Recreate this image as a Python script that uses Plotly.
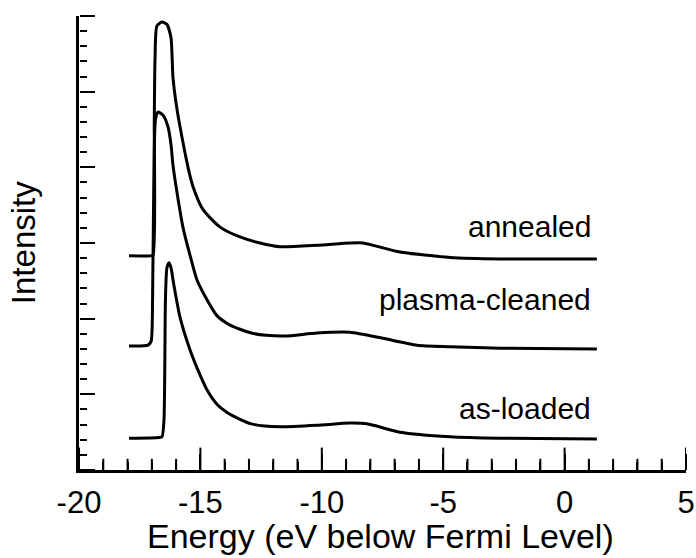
import plotly.graph_objects as go

# Energy (eV below Fermi level) and intensity (arbitrary, offset) for each spectrum
annealed_E = [-17.94, -17.05, -16.95, -16.90, -16.87, -16.79, -16.58, -16.38, -16.21, -16.13, -15.96,
              -15.76, -15.51, -15.30, -14.89, -14.19, -13.37, -12.55, -11.72, -10.20, -8.84,
              -8.30, -6.78, -4.72, -2.66, 1.33]
annealed_I = [2.83, 2.83, 2.84, 4.60, 5.42, 5.87, 5.92, 5.89, 5.71, 5.19, 4.76,
              4.40, 4.00, 3.74, 3.44, 3.21, 3.08, 3.00, 2.95, 2.97, 3.00,
              3.00, 2.88, 2.81, 2.79, 2.79]

plasma_E = [-17.94, -17.16, -17.03, -16.97, -16.91, -16.85, -16.75, -16.54, -16.33, -16.21,
            -16.13, -15.96, -15.72, -15.43, -15.14, -14.73, -14.32, -13.86, -13.37, -12.90,
            -12.30, -11.50, -10.20, -8.84, -7.48, -6.08, -4.72, -2.66, 1.33]
plasma_I = [1.64, 1.65, 1.70, 2.25, 4.10, 4.63, 4.73, 4.69, 4.53, 4.30,
            4.03, 3.66, 3.21, 2.84, 2.51, 2.25, 2.04, 1.93, 1.86, 1.81,
            1.78, 1.77, 1.81, 1.82, 1.74, 1.65, 1.63, 1.61, 1.60]

asloaded_E = [-17.94, -16.70, -16.58, -16.50, -16.44, -16.38, -16.29, -16.21, -16.09, -15.84, -15.43,
              -15.02, -14.73, -14.32, -13.90, -13.37, -12.90, -12.35, -11.72, -10.20, -8.84, -8.14,
              -6.78, -4.72, -2.66, 1.33]
asloaded_I = [0.42, 0.43, 0.44, 0.66, 2.25, 2.67, 2.74, 2.67, 2.44, 2.02, 1.59,
              1.26, 1.06, 0.87, 0.76, 0.67, 0.61, 0.58, 0.57, 0.59, 0.62, 0.61,
              0.50, 0.44, 0.42, 0.41]

labels = ["annealed", "plasma-cleaned", "as-loaded"]
label_x = [1.17, 1.17, 1.17]
label_y = [3.22, 2.25, 0.81]

x_tickvals = [-20, -15, -10, -5, 0, 5]
x_ticktext = ["-20", "-15", "-10", "-5", "0", "5"]
x_minor_ticks = [v for v in range(-20, 6) if v % 5 != 0]
x_range = [-20, 5]
y_range = [0, 6]

FONT = "Liberation Sans, Arial, Helvetica, sans-serif"

fig = go.Figure()
for E, I in [(annealed_E, annealed_I), (plasma_E, plasma_I), (asloaded_E, asloaded_I)]:
    fig.add_trace(go.Scatter(x=E, y=I, mode="lines",
                             line=dict(color="black", width=3, shape="spline", smoothing=0.6),
                             showlegend=False, hoverinfo="skip"))

# x-axis tick marks pointing up into the plot (half of each mark is clipped at the axis)
for vals, size in [(x_tickvals, 32), (x_minor_ticks, 16)]:
    fig.add_trace(go.Scatter(x=vals, y=[y_range[0]] * len(vals), mode="markers", cliponaxis=True,
                             marker=dict(symbol="line-ns-open", size=size, color="black",
                                         line=dict(width=2, color="black")),
                             showlegend=False, hoverinfo="skip"))

# invisible carrier so the tick-mark axes are drawn
fig.add_trace(go.Scatter(x=x_range, y=y_range, xaxis="x2", yaxis="y2", mode="markers",
                         marker=dict(opacity=0), showlegend=False, hoverinfo="skip"))

for t, lx, ly in zip(labels, label_x, label_y):
    fig.add_annotation(x=lx, y=ly, text=t, showarrow=False, xanchor="right", yanchor="middle",
                       font=dict(family=FONT, size=30, color="black"))

fig.add_annotation(x=-0.092, y=0.5, xref="paper", yref="paper", text="Intensity", textangle=-90,
                   showarrow=False, xanchor="center", yanchor="middle",
                   font=dict(family=FONT, size=33, color="black"))
fig.add_annotation(x=0.496, y=-0.146, xref="paper", yref="paper",
                   text="Energy (eV below Fermi Level)", showarrow=False,
                   xanchor="center", yanchor="middle",
                   font=dict(family=FONT, size=34, color="black"))

fig.update_layout(
    xaxis=dict(range=x_range, tickmode="array", tickvals=x_tickvals, ticktext=x_ticktext,
               ticks="", showline=True, linewidth=2.5, linecolor="black",
               showgrid=False, zeroline=False, automargin=False, ticklabelstandoff=3,
               tickfont=dict(family=FONT, size=31, color="black")),
    yaxis=dict(range=y_range, showticklabels=False, ticks="", automargin=False,
               showline=True, linewidth=2.5, linecolor="black", showgrid=False, zeroline=False),
    xaxis2=dict(range=x_range, overlaying="x", side="top", anchor="free", position=0,
                tickmode="linear", tick0=0, dtick=5, showticklabels=False, automargin=False,
                ticks="outside", ticklen=16, tickwidth=2, tickcolor="black",
                minor=dict(dtick=1, tick0=0, ticks="outside", ticklen=8, tickwidth=2, tickcolor="black"),
                showline=False, showgrid=False, zeroline=False),
    yaxis2=dict(range=y_range, overlaying="y", side="right", anchor="free", position=0,
                tickmode="linear", tick0=0, dtick=1, showticklabels=False, automargin=False,
                ticks="outside", ticklen=15, tickwidth=2, tickcolor="black",
                minor=dict(dtick=0.2, tick0=0, ticks="outside", ticklen=7, tickwidth=2, tickcolor="black"),
                showline=False, showgrid=False, zeroline=False),
    width=696, height=558, margin=dict(l=79, r=10, t=16, b=88, autoexpand=False),
    paper_bgcolor="white", plot_bgcolor="white")

fig.write_html("out.html")
